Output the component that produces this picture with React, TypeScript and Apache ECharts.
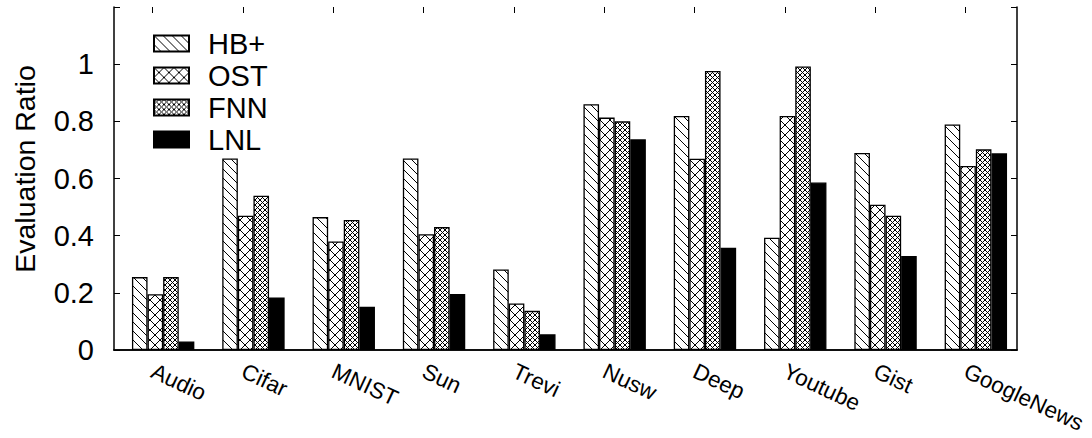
import React, { useEffect, useRef } from "react";
import * as echarts from "echarts";

const categories = ["Audio", "Cifar", "MNIST", "Sun", "Trevi", "Nusw", "Deep", "Youtube", "Gist", "GoogleNews"];
const seriesNames = ["HB+", "OST", "FNN", "LNL"];
const hbPlus = [0.255, 0.67, 0.465, 0.67, 0.282, 0.86, 0.819, 0.393, 0.689, 0.789];
const ost = [0.195, 0.47, 0.38, 0.405, 0.163, 0.813, 0.669, 0.819, 0.508, 0.644];
const fnn = [0.255, 0.54, 0.455, 0.43, 0.137, 0.8, 0.976, 0.992, 0.47, 0.702];
const lnl = [0.03, 0.184, 0.151, 0.196, 0.055, 0.737, 0.358, 0.586, 0.329, 0.688];
const yTicks = [0, 0.2, 0.4, 0.6, 0.8, 1];
const yTitle = "Evaluation Ratio";

function makePattern(size: number, dirs: string[], lw: number) {
  const c = document.createElement("canvas");
  c.width = size;
  c.height = size;
  const ctx = c.getContext("2d")!;
  ctx.fillStyle = "#fff";
  ctx.fillRect(0, 0, size, size);
  ctx.strokeStyle = "#000";
  ctx.lineWidth = lw;
  for (const d of dirs) {
    for (const k of [-size, 0, size]) {
      ctx.beginPath();
      if (d === "back") {
        ctx.moveTo(k, 0);
        ctx.lineTo(k + size, size);
      } else {
        ctx.moveTo(k, size);
        ctx.lineTo(k + size, 0);
      }
      ctx.stroke();
    }
  }
  return { image: c, repeat: "repeat", imageWidth: size, imageHeight: size } as any;
}

export default function App() {
  const ref = useRef<HTMLDivElement>(null);
  useEffect(() => {
    if (!ref.current) return;
    const chart = echarts.init(ref.current, null, { renderer: "svg" });
    const fills = [
      makePattern(9, ["back"], 1),
      makePattern(10, ["back", "fwd"], 1),
      makePattern(5, ["back", "fwd"], 1),
      "#000",
    ];
    const values = [hbPlus, ost, fnn, lnl];
    const font = "Liberation Sans, Arial, sans-serif";
    const gridBox = { top: 7, bottom: 88 };
    chart.setOption({
      animation: false,
      backgroundColor: "#fff",
      textStyle: { fontFamily: font, color: "#000" },
      grid: [
        { left: 114, right: 75, ...gridBox },
        { left: 118, right: 71, ...gridBox },
        { left: 107.5, right: 81.5, ...gridBox },
      ],
      graphic: [
        {
          type: "text",
          x: 25,
          y: 169,
          rotation: Math.PI / 2,
          style: {
            text: yTitle,
            fontSize: 28.5,
            fontFamily: font,
            fill: "#000",
            align: "center",
            verticalAlign: "middle",
          },
        },
      ],
      legend: {
        orient: "vertical",
        left: 148,
        top: 24,
        itemWidth: 35,
        itemHeight: 16,
        itemGap: 3,
        icon: "rect",
        data: seriesNames,
        textStyle: { fontSize: 29, lineHeight: 29, fontFamily: font, color: "#000", padding: [0, 0, 0, 14] },
      },
      xAxis: [
        {
          gridIndex: 0, type: "category", data: categories, position: "bottom",
          axisLine: { show: true, lineStyle: { color: "#000", width: 1.5 } },
          axisTick: { show: false }, axisLabel: { show: false }, splitLine: { show: false },
        },
        {
          gridIndex: 0, type: "category", data: categories, position: "top",
          axisLine: { show: true, lineStyle: { color: "#000", width: 1.5 } },
          axisTick: { show: false }, axisLabel: { show: false }, splitLine: { show: false },
        },
        {
          gridIndex: 1, type: "category", data: categories, show: false,
        },
        {
          gridIndex: 2, type: "category", data: categories, position: "bottom",
          axisLine: { show: false }, axisTick: { show: false },
          axisLabel: { show: true, rotate: -25, fontSize: 22.5, margin: 20, color: "#000", fontFamily: font, interval: 0 },
        },
        {
          gridIndex: 2, type: "category", data: categories, position: "top",
          axisLine: { show: false },
          axisTick: { show: true, inside: true, alignWithLabel: true, length: 6, lineStyle: { color: "#000", width: 1 } },
          axisLabel: { show: false },
        },
      ],
      yAxis: [
        {
          gridIndex: 0, type: "value", min: 0, max: 1.2, interval: 0.2, position: "left",
          axisLine: { show: true, lineStyle: { color: "#000", width: 1.5 } },
          axisTick: { show: true, inside: true, length: 6, lineStyle: { color: "#000" } },
          axisLabel: {
            fontSize: 29, margin: 20, color: "#000", fontFamily: font,
            formatter: (v: number) => (yTicks.some((t) => Math.abs(t - v) < 1e-6) ? String(+v.toFixed(1)) : ""),
          },
          splitLine: { show: false },
        },
        {
          gridIndex: 0, type: "value", min: 0, max: 1.2, interval: 0.2, position: "right",
          axisLine: { show: true, lineStyle: { color: "#000", width: 1.5 } },
          axisTick: { show: true, inside: true, length: 6, lineStyle: { color: "#000" } },
          axisLabel: { show: false }, splitLine: { show: false },
        },
        { gridIndex: 1, type: "value", min: 0, max: 1.2, show: false },
        { gridIndex: 2, type: "value", min: 0, max: 1.2, show: false },
      ],
      series: seriesNames.map((name, i) => ({
        name,
        type: "bar",
        xAxisIndex: 2,
        yAxisIndex: 2,
        data: values[i],
        barWidth: 15.6,
        barGap: "0%",
        itemStyle: { color: fills[i], borderColor: "#000", borderWidth: 1.3 },
      })),
    });
    return () => chart.dispose();
  }, []);
  return <div ref={ref} style={{ width: 1092, height: 438, position: "absolute", left: 0, top: 0 }} />;
}
